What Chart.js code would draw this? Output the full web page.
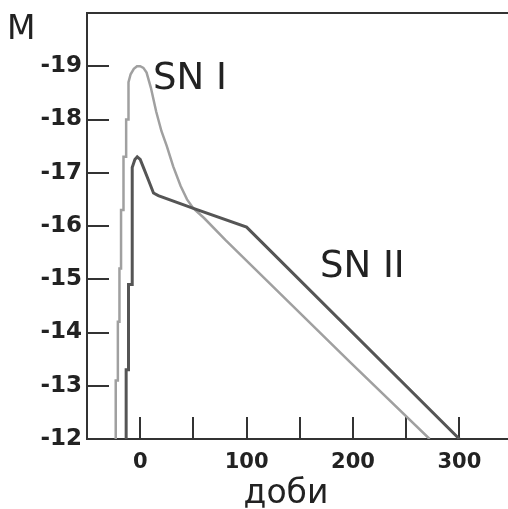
<!DOCTYPE html>
<html>
<head>
<meta charset="utf-8">
<script src="https://cdn.jsdelivr.net/npm/chart.js@4"></script>
<style>
    html, body { margin: 0; padding: 0; background: #fff; overflow: hidden; }
    #wrap { position: absolute; left: 0; top: 0; width: 516px; height: 509px; }
</style>
</head>
<body>
<div id="wrap"><canvas id="myChart" width="516" height="509"></canvas></div>
<script>
// SN I light curve (days from maximum, absolute magnitude)
const sn1Days = [-23, -23, -21, -21, -19.5, -19.5, -18, -18, -15.7, -15.7, -13.2, -13.2, -11, -11,
    -9, -6, -3, 0, 3, 6, 10, 15, 20, 25, 31, 38, 44, 50, 60, 80, 103, 197, 272];
const sn1Mag = [-12, -13.1, -13.1, -14.2, -14.2, -15.2, -15.2, -16.3, -16.3, -17.3, -17.3, -18.0, -18.0, -18.7,
    -18.85, -18.95, -19.0, -19.0, -18.97, -18.88, -18.6, -18.15, -17.78, -17.5, -17.12, -16.75, -16.5, -16.33, -16.15, -15.74, -15.29, -13.45, -12];

// SN II light curve
const sn2Days = [-13.2, -13.2, -11, -11, -7.5, -7.5, -5, -2.8, 0, 3, 8, 12.5, 17, 50, 100, 300];
const sn2Mag = [-12, -13.3, -13.3, -14.9, -14.9, -17.1, -17.25, -17.3, -17.25, -17.1, -16.85, -16.62, -16.57, -16.33, -15.98, -12];

const xTickLabels = [0, 100, 200, 300];
const yTickLabels = [-19, -18, -17, -16, -15, -14, -13, -12];

const toPoints = (xs, ys) => xs.map((d, i) => ({ x: d, y: ys[i] }));

// frame, inward tick marks and the text labels
const framePlugin = {
    id: 'frame',
    beforeDatasetsDraw(chart) {
        const { ctx, chartArea: a, scales: { x, y } } = chart;
        ctx.save();
        ctx.strokeStyle = '#333';
        ctx.lineWidth = 2;
        ctx.strokeRect(a.left, a.top, a.right - a.left, a.bottom - a.top);
        ctx.beginPath();
        x.ticks.forEach(t => {
            const px = Math.round(x.getPixelForValue(t.value));
            ctx.moveTo(px, a.bottom);
            ctx.lineTo(px, a.bottom - 22);
        });
        y.ticks.forEach(t => {
            const py = Math.round(y.getPixelForValue(t.value));
            ctx.moveTo(a.left, py);
            ctx.lineTo(a.left + 22, py);
        });
        ctx.stroke();
        ctx.restore();
    },
    afterDraw(chart) {
        const { ctx, scales: { x, y } } = chart;
        ctx.save();
        ctx.fillStyle = '#222';
        ctx.textBaseline = 'alphabetic';
        ctx.textAlign = 'left';
        ctx.font = '33px "DejaVu Sans"';
        ctx.fillText('M', 7, 39);
        ctx.font = '37px "DejaVu Sans"';
        ctx.fillText('SN I', x.getPixelForValue(12), y.getPixelForValue(-18.58));
        ctx.fillText('SN II', x.getPixelForValue(169), y.getPixelForValue(-15.05));
        ctx.textAlign = 'center';
        ctx.font = '33px "DejaVu Sans"';
        ctx.fillText('доби', x.getPixelForValue(137), 503);
        ctx.restore();
    }
};

const ctx = document.getElementById('myChart').getContext('2d');
new Chart(ctx, {
    type: 'scatter',
    data: {
        datasets: [{
            label: 'SN II',
            data: toPoints(sn2Days, sn2Mag),
            showLine: true,
            borderColor: '#555555',
            borderWidth: 3,
            pointRadius: 0,
            tension: 0
        }, {
            label: 'SN I',
            data: toPoints(sn1Days, sn1Mag),
            showLine: true,
            borderColor: '#a0a0a0',
            borderWidth: 2.5,
            pointRadius: 0,
            tension: 0
        }]
    },
    options: {
        responsive: false,
        animation: false,
        layout: { padding: { top: 13, right: 3.4, left: 0, bottom: 0 } },
        plugins: {
            legend: { display: false },
            tooltip: { enabled: false }
        },
        scales: {
            x: {
                type: 'linear',
                min: -50,
                max: 350,
                grid: { display: false, drawTicks: false },
                border: { display: false },
                ticks: {
                    stepSize: 50,
                    padding: 11,
                    color: '#222',
                    font: { family: 'DejaVu Sans', size: 21, weight: 'bold' },
                    maxRotation: 0,
                    autoSkip: false,
                    callback: v => xTickLabels.includes(v) ? String(v) : ''
                },
                afterFit: s => {
                    s.height = 70;
                    s.paddingLeft = 0;
                    s.paddingRight = 0;
                }
            },
            y: {
                type: 'linear',
                reverse: true,
                min: -20,
                max: -12,
                grid: { display: false, drawTicks: false },
                border: { display: false },
                ticks: {
                    stepSize: 1,
                    padding: 5,
                    color: '#222',
                    font: { family: 'DejaVu Sans', size: 23, weight: 'bold' },
                    autoSkip: false,
                    callback: v => yTickLabels.includes(v) ? String(v) : ''
                },
                afterFit: s => {
                    s.width = 87;
                    s.paddingTop = 0;
                    s.paddingBottom = 0;
                }
            }
        }
    },
    plugins: [framePlugin]
});
</script>
</body>
</html>
